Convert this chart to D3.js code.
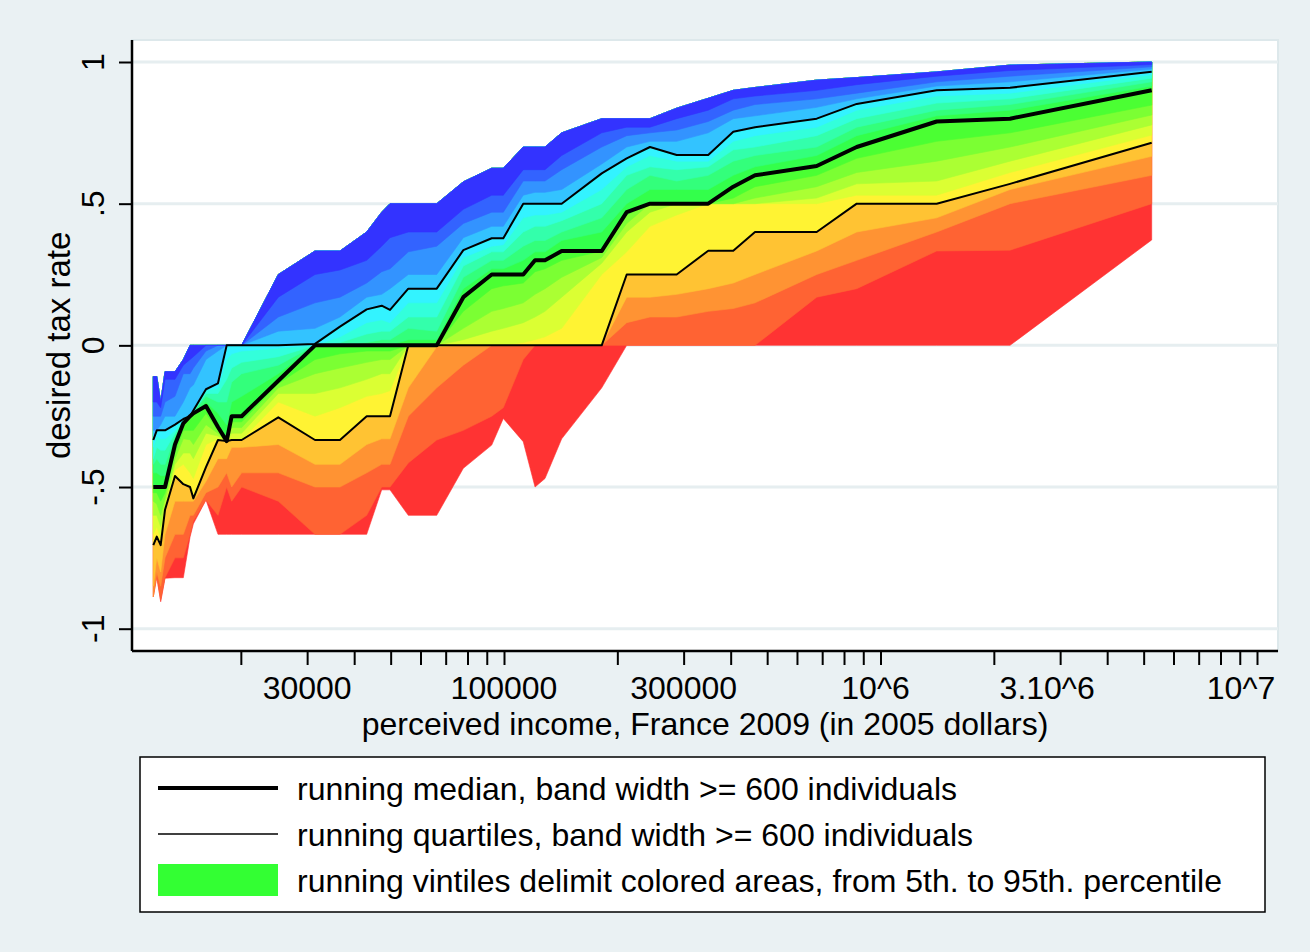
<!DOCTYPE html>
<html>
<head>
<meta charset="utf-8">
<script src="https://cdn.jsdelivr.net/npm/d3@7"></script>
<style>
  body { margin: 0; background: #eaf1f3; }
  svg { display: block; font-family: "Liberation Sans", Arial, sans-serif; }
</style>
</head>
<body>
<div id="chart"></div>
<script>
// incomes (2005 dollars) at which running vintiles were computed
const incomes = [11710, 11960, 12250, 12580, 13370, 14070, 14660, 14960, 16160, 17390,
  18340, 18910, 20100, 25150, 31480, 36670, 43180, 47330, 49800, 55700,
  66270, 77980, 92760, 99570, 112500, 120900, 128500, 142300, 181800, 211800,
  244200, 287500, 348700, 406400, 464200, 676900, 864600, 1410000, 2208000, 5252000]

// running vintiles of desired tax rate, 5th .. 95th percentile
const p05 = [-0.887, -0.817, -0.905, -0.822, -0.82, -0.82, -0.676, -0.63, -0.546, -0.667, -0.667, -0.667, -0.667, -0.667, -0.667, -0.667, -0.667, -0.51, -0.51, -0.6, -0.6, -0.434, -0.352, -0.258, -0.34, -0.5, -0.47, -0.33, -0.15, 0, 0, 0, 0, 0, 0, 0, 0, 0, 0, 0.372]
const p10 = [-0.887, -0.817, -0.9, -0.82, -0.75, -0.75, -0.667, -0.62, -0.546, -0.6, -0.5, -0.55, -0.5, -0.55, -0.667, -0.667, -0.6, -0.5, -0.5, -0.415, -0.334, -0.3, -0.25, -0.22, -0.05, 0, 0, 0, 0, 0, 0, 0, 0, 0, 0, 0.17, 0.2, 0.333, 0.336, 0.5]
const p15 = [-0.887, -0.8, -0.85, -0.75, -0.667, -0.667, -0.6, -0.6, -0.52, -0.5, -0.45, -0.5, -0.45, -0.45, -0.5, -0.5, -0.45, -0.42, -0.42, -0.25, -0.15, -0.07, 0, 0, 0, 0, 0, 0, 0, 0.08, 0.1, 0.1, 0.12, 0.13, 0.15, 0.25, 0.3, 0.4, 0.5, 0.6]
const p20 = [-0.85, -0.75, -0.8, -0.667, -0.55, -0.55, -0.55, -0.55, -0.48, -0.4, -0.4, -0.36, -0.36, -0.35, -0.42, -0.42, -0.35, -0.33, -0.33, -0.15, -0.005, 0, 0, 0, 0, 0, 0, 0, 0, 0.17, 0.17, 0.18, 0.2, 0.22, 0.25, 0.333, 0.4, 0.45, 0.55, 0.667]
const p25 = [-0.705, -0.675, -0.705, -0.58, -0.461, -0.49, -0.5, -0.54, -0.43, -0.334, -0.338, -0.334, -0.334, -0.254, -0.334, -0.334, -0.25, -0.25, -0.25, 0, 0, 0, 0, 0, 0, 0, 0, 0, 0, 0.25, 0.25, 0.25, 0.334, 0.334, 0.4, 0.4, 0.5, 0.5, 0.57, 0.715]
const p30 = [-0.667, -0.64, -0.68, -0.57, -0.44, -0.42, -0.45, -0.47, -0.35, -0.33, -0.338, -0.33, -0.333, -0.2, -0.25, -0.22, -0.18, -0.17, -0.16, 0, 0, 0, 0, 0, 0.01, 0.02, 0.03, 0.06, 0.25, 0.33, 0.42, 0.46, 0.5, 0.5, 0.5, 0.5, 0.53, 0.53, 0.61, 0.742]
const p35 = [-0.6, -0.6, -0.64, -0.56, -0.42, -0.38, -0.38, -0.4, -0.31, -0.32, -0.338, -0.31, -0.31, -0.17, -0.17, -0.15, -0.12, -0.1, -0.1, 0, 0, 0.02, 0.05, 0.06, 0.08, 0.1, 0.12, 0.17, 0.29, 0.4, 0.47, 0.5, 0.5, 0.5, 0.5, 0.52, 0.57, 0.58, 0.65, 0.778]
const p40 = [-0.55, -0.56, -0.6, -0.54, -0.4, -0.33, -0.333, -0.35, -0.28, -0.31, -0.338, -0.29, -0.29, -0.15, -0.1, -0.08, -0.06, -0.05, -0.05, 0, 0, 0.06, 0.12, 0.13, 0.15, 0.18, 0.2, 0.24, 0.31, 0.43, 0.5, 0.5, 0.5, 0.5, 0.52, 0.56, 0.61, 0.65, 0.7, 0.813]
const p45 = [-0.52, -0.52, -0.55, -0.52, -0.38, -0.3, -0.3, -0.3, -0.24, -0.3, -0.338, -0.27, -0.27, -0.135, -0.05, -0.03, -0.02, -0.02, -0.02, 0, 0, 0.12, 0.2, 0.21, 0.22, 0.26, 0.27, 0.3, 0.333, 0.46, 0.5, 0.5, 0.5, 0.52, 0.56, 0.6, 0.66, 0.72, 0.75, 0.848]
const p50 = [-0.5, -0.5, -0.5, -0.5, -0.35, -0.275, -0.25, -0.24, -0.214, -0.288, -0.338, -0.25, -0.25, -0.125, 0, 0, 0, 0, 0, 0, 0, 0.17, 0.25, 0.25, 0.25, 0.3, 0.3, 0.333, 0.333, 0.47, 0.5, 0.5, 0.5, 0.56, 0.6, 0.633, 0.7, 0.79, 0.8, 0.9]
const p55 = [-0.45, -0.45, -0.46, -0.46, -0.333, -0.27, -0.25, -0.24, -0.2, -0.24, -0.28, -0.2, -0.18, -0.1, 0, 0, 0, 0, 0, 0.02, 0.02, 0.2, 0.27, 0.27, 0.3, 0.33, 0.33, 0.37, 0.4, 0.5, 0.55, 0.55, 0.55, 0.6, 0.63, 0.67, 0.74, 0.81, 0.83, 0.915]
const p60 = [-0.42, -0.4, -0.42, -0.42, -0.32, -0.27, -0.25, -0.235, -0.18, -0.2, -0.2, -0.13, -0.1, -0.07, 0, 0, 0.01, 0.02, 0.02, 0.06, 0.05, 0.24, 0.3, 0.3, 0.35, 0.37, 0.37, 0.4, 0.45, 0.55, 0.6, 0.58, 0.6, 0.65, 0.67, 0.7, 0.77, 0.83, 0.85, 0.93]
const p65 = [-0.4, -0.36, -0.37, -0.37, -0.31, -0.265, -0.25, -0.235, -0.17, -0.17, -0.12, -0.08, -0.06, -0.04, 0, 0.01, 0.04, 0.05, 0.05, 0.1, 0.1, 0.28, 0.33, 0.33, 0.4, 0.42, 0.42, 0.44, 0.5, 0.6, 0.63, 0.62, 0.63, 0.69, 0.7, 0.74, 0.8, 0.855, 0.87, 0.943]
const p70 = [-0.36, -0.32, -0.33, -0.33, -0.3, -0.26, -0.25, -0.23, -0.16, -0.15, -0.05, -0.03, -0.02, -0.01, 0, 0.03, 0.08, 0.09, 0.08, 0.15, 0.15, 0.31, 0.35, 0.355, 0.45, 0.46, 0.46, 0.47, 0.55, 0.63, 0.67, 0.65, 0.65, 0.72, 0.74, 0.77, 0.83, 0.88, 0.89, 0.955]
const p75 = [-0.334, -0.3, -0.3, -0.3, -0.28, -0.26, -0.25, -0.23, -0.155, -0.134, 0, 0, 0, 0, 0.005, 0.066, 0.127, 0.14, 0.125, 0.2, 0.2, 0.336, 0.378, 0.378, 0.5, 0.5, 0.5, 0.5, 0.607, 0.66, 0.7, 0.672, 0.672, 0.754, 0.77, 0.8, 0.852, 0.9, 0.909, 0.966]
const p80 = [-0.3, -0.3, -0.28, -0.25, -0.25, -0.2, -0.15, -0.14, -0.05, -0.02, 0, 0, 0, 0.05, 0.06, 0.1, 0.17, 0.18, 0.2, 0.25, 0.25, 0.38, 0.42, 0.42, 0.53, 0.54, 0.54, 0.55, 0.64, 0.7, 0.72, 0.72, 0.75, 0.8, 0.81, 0.84, 0.87, 0.915, 0.93, 0.975]
const p85 = [-0.25, -0.25, -0.25, -0.2, -0.18, -0.1, -0.1, -0.08, -0.02, 0, 0, 0, 0, 0.1, 0.15, 0.17, 0.22, 0.26, 0.27, 0.33, 0.35, 0.43, 0.47, 0.47, 0.58, 0.58, 0.58, 0.62, 0.7, 0.74, 0.75, 0.76, 0.79, 0.83, 0.85, 0.87, 0.89, 0.93, 0.95, 0.983]
const p90 = [-0.2, -0.2, -0.22, -0.12, -0.12, -0.07, -0.05, -0.04, 0, 0, 0, 0, 0, 0.17, 0.25, 0.266, 0.3, 0.35, 0.38, 0.4, 0.4, 0.48, 0.53, 0.53, 0.62, 0.62, 0.62, 0.67, 0.75, 0.77, 0.77, 0.8, 0.83, 0.87, 0.88, 0.9, 0.92, 0.95, 0.97, 0.991]
const p95 = [-0.11, -0.11, -0.2, -0.093, -0.093, -0.05, 0, 0, 0, 0, 0, 0, 0, 0.25, 0.333, 0.333, 0.4, 0.47, 0.5, 0.5, 0.5, 0.577, 0.625, 0.625, 0.7, 0.7, 0.7, 0.75, 0.8, 0.8, 0.8, 0.837, 0.872, 0.9, 0.91, 0.936, 0.945, 0.965, 0.989, 1]

const vintiles = [p05, p10, p15, p20, p25, p30, p35, p40, p45, p50, p55, p60, p65, p70, p75, p80, p85, p90, p95]

// one colour per band, from the 5-10 band (red) up to the 90-95 band (blue)
const bandColors = ['#ff3333', '#ff6333', '#ff9333', '#ffc333', '#fff333', '#dbff33', '#abff33', '#7bff33', '#4bff33',
  '#33ff4b', '#33ff7b', '#33ffab', '#33ffdb', '#33f3ff', '#33c3ff', '#3393ff', '#3363ff', '#3333ff']

const xTicks = [2e4, 3e4, 4e4, 5e4, 6e4, 7e4, 8e4, 9e4, 1e5, 2e5, 3e5, 4e5, 5e5, 6e5, 7e5, 8e5, 9e5, 1e6,
  2e6, 3e6, 4e6, 5e6, 6e6, 7e6, 8e6, 9e6, 1e7]
const xLabels = [[3e4, '30000', 0], [1e5, '100000', 0], [3e5, '300000', 0], [1e6, '10^6', -5], [3e6, '3.10^6', -13], [1e7, '10^7', -16]]
const yTicks = [-1, -0.5, 0, 0.5, 1]
const yLabels = ['-1', '-.5', '0', '.5', '1']

const legendItems = [
  { type: 'thick', label: 'running median, band width >= 600 individuals' },
  { type: 'thin', label: 'running quartiles, band width >= 600 individuals' },
  { type: 'patch', label: 'running vintiles delimit colored areas, from 5th. to 95th. percentile' }
]

const svgWidth = 1310
const svgHeight = 952
const margin = { left: 132, right: 32, top: 40, bottom: 301 }
const width = svgWidth - margin.left - margin.right
const height = svgHeight - margin.top - margin.bottom

const svg = d3.select('#chart').append('svg')
  .attr('width', svgWidth)
  .attr('height', svgHeight)

svg.append('rect')
  .attr('width', svgWidth).attr('height', svgHeight)
  .attr('fill', '#eaf1f3')

const g = svg.append('g')
  .attr('transform', `translate(${margin.left},${margin.top})`)

// plot region
g.append('rect')
  .attr('width', width).attr('height', height)
  .attr('fill', 'white')
  .attr('stroke', '#dde8eb')
  .attr('stroke-width', 2)

////////////// scales //////////////
const x = d3.scaleLog()
  .domain([1e4, 1e7])
  .range([-4.5, 1125])

const y = d3.scaleLinear()
  .domain([-1, 1])
  .range([588.7, 22])

////////////// grid //////////////
g.append('g')
  .selectAll('line')
  .data(yTicks)
  .join('line')
  .attr('x1', 0).attr('x2', width)
  .attr('y1', d => y(d)).attr('y2', d => y(d))
  .attr('stroke', '#e6eef0')
  .attr('stroke-width', 3)

////////////// bands //////////////
// each band is filled from its lower vintile up to the 95th, drawn bottom first,
// so the next band covers the rest and no seams are left
const area = d3.area()
  .x(d => x(d.income))
  .y0(d => y(d.lo))
  .y1(d => y(d.hi))

g.append('g')
  .selectAll('path')
  .data(bandColors.map((c, i) => ({
    color: c,
    values: incomes.map((inc, j) => ({ income: inc, lo: vintiles[i][j], hi: p95[j] }))
  })))
  .join('path')
  .attr('fill', d => d.color)
  .attr('stroke', d => d.color)
  .attr('stroke-width', 0.6)
  .attr('d', d => area(d.values))

////////////// median & quartiles //////////////
const line = d3.line()
  .x(d => x(d.income))
  .y(d => y(d.value))

const lines = [
  { values: p25, width: 2 },
  { values: p75, width: 2 },
  { values: p50, width: 4 }
]

g.append('g')
  .selectAll('path')
  .data(lines)
  .join('path')
  .attr('fill', 'none')
  .attr('stroke', 'black')
  .attr('stroke-width', d => d.width)
  .attr('stroke-linejoin', 'round')
  .attr('d', d => line(incomes.map((inc, j) => ({ income: inc, value: d.values[j] }))))

////////////// axes //////////////
const xAxis = g.append('g')
  .attr('transform', `translate(0,${height})`)
  .call(d3.axisBottom(x).tickValues(xTicks).tickFormat('').tickSize(14).tickSizeOuter(0))
xAxis.select('.domain').remove()
xAxis.selectAll('.tick line').attr('stroke', 'black').attr('stroke-width', 2)

g.append('line')
  .attr('x1', 0).attr('x2', width)
  .attr('y1', height).attr('y2', height)
  .attr('stroke', 'black').attr('stroke-width', 2.5)

g.append('g')
  .selectAll('text')
  .data(xLabels)
  .join('text')
  .attr('x', d => x(d[0]) + d[2])
  .attr('y', height + 48)
  .attr('text-anchor', 'middle')
  .attr('font-size', 32)
  .text(d => d[1])

g.append('text')
  .attr('x', 573)
  .attr('y', height + 84)
  .attr('text-anchor', 'middle')
  .attr('font-size', 32)
  .text('perceived income, France 2009 (in 2005 dollars)')

const yAxis = g.append('g')
  .call(d3.axisLeft(y).tickValues(yTicks).tickFormat('').tickSize(13).tickSizeOuter(0))
yAxis.select('.domain').remove()
yAxis.selectAll('.tick line').attr('stroke', 'black').attr('stroke-width', 2)

g.append('line')
  .attr('x1', 0).attr('x2', 0)
  .attr('y1', 0).attr('y2', height)
  .attr('stroke', 'black').attr('stroke-width', 2.5)

g.append('g')
  .selectAll('text')
  .data(yTicks)
  .join('text')
  .attr('transform', d => `translate(-28,${y(d)}) rotate(-90)`)
  .attr('text-anchor', 'middle')
  .attr('font-size', 32)
  .text((d, i) => yLabels[i])

g.append('text')
  .attr('transform', `translate(-62,${y(0)}) rotate(-90)`)
  .attr('text-anchor', 'middle')
  .attr('font-size', 33)
  .text('desired tax rate')

////////////// legend //////////////
const legend = svg.append('g')
  .attr('transform', 'translate(140,757)')

legend.append('rect')
  .attr('width', 1125).attr('height', 155)
  .attr('fill', 'white')
  .attr('stroke', 'black')
  .attr('stroke-width', 1.5)

const rows = legend.selectAll('.row')
  .data(legendItems)
  .join('g')
  .attr('class', 'row')
  .attr('transform', (d, i) => `translate(0,${31 + i * 46})`)

rows.filter(d => d.type !== 'patch')
  .append('line')
  .attr('x1', 18).attr('x2', 138)
  .attr('stroke', 'black')
  .attr('stroke-width', d => d.type === 'thick' ? 4 : 1.5)

rows.filter(d => d.type === 'patch')
  .append('rect')
  .attr('x', 18).attr('y', -16)
  .attr('width', 120).attr('height', 32)
  .attr('fill', '#33ff33')

rows.append('text')
  .attr('x', 157)
  .attr('y', 12)
  .attr('font-size', 32)
  .text(d => d.label)
</script>
</body>
</html>
